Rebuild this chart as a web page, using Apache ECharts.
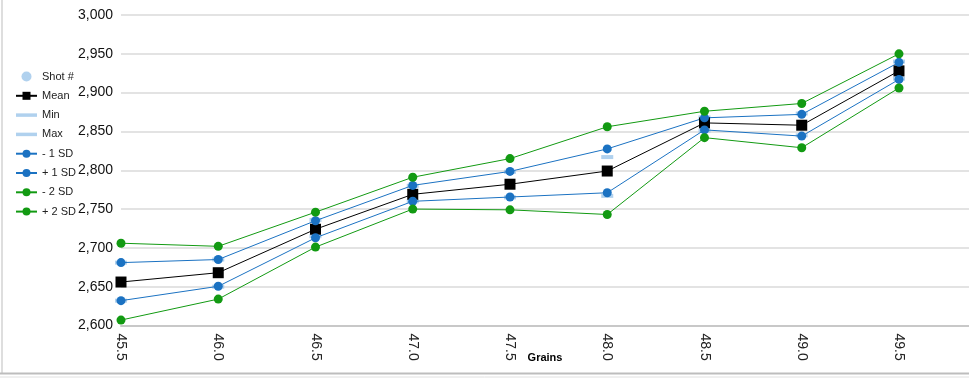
<!DOCTYPE html>
<html><head><meta charset="utf-8">
<script src="https://cdn.jsdelivr.net/npm/echarts@6/dist/echarts.min.js"></script>
<style>html,body{margin:0;padding:0;background:#fff}#c{width:969px;height:380px}</style>
</head><body><div id="c"></div>
<script>
const grains = [45.5, 46.0, 46.5, 47.0, 47.5, 48.0, 48.5, 49.0, 49.5];
const meanV  = [2656, 2668, 2724, 2769, 2782, 2799, 2861, 2858, 2928];
const minV   = [2632, 2650, 2715, 2760, 2765, 2767, 2851, 2845, 2918];
const maxV   = [2681, 2685, 2736, 2780, 2798, 2817, 2868, 2873, 2940];
const minus1 = [2632, 2650.5, 2713, 2760, 2765.5, 2771, 2852, 2844, 2917];
const plus1  = [2681, 2685, 2735, 2780.5, 2798.5, 2827.5, 2867.5, 2872, 2939];
const minus2 = [2607, 2634, 2701, 2750, 2749, 2743, 2842, 2829, 2906];
const plus2  = [2706, 2702, 2746, 2791, 2815, 2856, 2876, 2886, 2950];
const shots  = [];
const yTicks = {min: 2600, max: 3000, interval: 50};

const pairs = arr => grains.map((g, i) => [g, arr[i]]);
const font = '"Liberation Sans", Arial, sans-serif';
const blue = '#1b72c2', green = '#129a12', light = '#9cc5ea';

const lineS = (name, data, color, symbol, size) => ({
  name, type: 'line', data: pairs(data), symbol, symbolSize: size,
  lineStyle: {color, width: 1}, itemStyle: {color}, z: 3
});

const chart = echarts.init(document.getElementById('c'), null, {renderer: 'canvas'});
chart.setOption({
  animation: false,
  textStyle: {fontFamily: font},
  grid: {left: 121, right: 0, top: 15, bottom: 54.5, containLabel: false},
  legend: {
    orient: 'vertical', left: 10, top: 66, itemGap: 8.3, itemWidth: 21, itemHeight: 10,
    textStyle: {fontSize: 11, color: '#222', fontFamily: font},
    data: [
      {name: 'Shot #', icon: 'circle'},
      {name: 'Mean'},
      {name: 'Min', icon: 'path://M0,0h24v4h-24z'},
      {name: 'Max', icon: 'path://M0,0h24v4h-24z'},
      '- 1 SD', '+ 1 SD', '- 2 SD', '+ 2 SD']
  },
  xAxis: {
    type: 'value', min: 45.5, max: 49.86, interval: 0.5,
    name: 'Grains', nameLocation: 'middle', nameGap: 27, nameMoveOverlap: false,
    nameTextStyle: {fontSize: 11, fontWeight: 'bold', color: '#000', fontFamily: font, verticalAlign: 'top'},
    axisLine: {show: true, lineStyle: {color: '#c8c8c8', width: 2}},
    axisTick: {show: false},
    splitLine: {show: false},
    axisLabel: {rotate: -90, fontSize: 14, color: '#222', margin: 8, showMaxLabel: false,
      formatter: v => v.toFixed(1)}
  },
  yAxis: {
    type: 'value', min: yTicks.min, max: yTicks.max, interval: yTicks.interval,
    axisLine: {show: false}, axisTick: {show: false},
    splitLine: {lineStyle: {color: '#dadada', width: 1.5}},
    axisLabel: {fontSize: 14, color: '#111', margin: 8,
      formatter: v => v.toLocaleString('en-US')}
  },
  graphic: [
    {type: 'line', shape: {x1: 2, y1: 0, x2: 2, y2: 374}, style: {stroke: '#bdbdbd', lineWidth: 1}},
    {type: 'line', shape: {x1: 0, y1: 373.5, x2: 969, y2: 373.5}, style: {stroke: '#bdbdbd', lineWidth: 2}},
    {type: 'line', shape: {x1: 0, y1: 377, x2: 969, y2: 377}, style: {stroke: '#e0e0e0', lineWidth: 1}}
  ],
  series: [
    {name: 'Shot #', type: 'scatter', data: shots, symbolSize: 8, itemStyle: {color: light}},
    lineS('Mean', meanV, '#000', 'rect', 11),
    {name: 'Min', type: 'scatter', data: pairs(minV), symbol: 'rect', symbolSize: [12, 4], itemStyle: {color: light}, z: 2},
    {name: 'Max', type: 'scatter', data: pairs(maxV), symbol: 'rect', symbolSize: [12, 4], itemStyle: {color: light}, z: 2},
    lineS('- 1 SD', minus1, blue, 'circle', 9),
    lineS('+ 1 SD', plus1, blue, 'circle', 9),
    lineS('- 2 SD', minus2, green, 'circle', 9),
    lineS('+ 2 SD', plus2, green, 'circle', 9)
  ]
});
</script></body></html>
